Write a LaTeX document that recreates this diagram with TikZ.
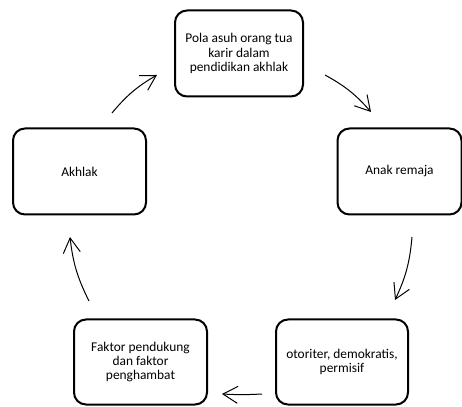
\documentclass[tikz,border=0pt]{standalone}
\usepackage{fontspec}
\setmainfont{Carlito}
\usetikzlibrary{arrows.meta}

\tikzset{
	box/.style={draw, line width=2pt, rounded corners=12pt, align=center,
		font=\fontsize{13.4}{14.5}\selectfont},
}

\begin{document}
\begin{tikzpicture}[x=1pt, y=1pt, line width=1pt, arrows={-Straight Barb[angle=60:17pt]}]
	\useasboundingbox (0,0) rectangle (462,406);

	\node[box, minimum width=128pt, minimum height=86pt] (pola) at (239,352.5) {Pola asuh orang tua\\karir dalam\\pendidikan akhlak};
	\node[box, minimum width=124pt, minimum height=86pt] (anak) at (399.5,234.5) {Anak remaja};
	\node[box, minimum width=132pt, minimum height=85pt] (tipe) at (342,44) {otoriter, demokratis,\\permisif};
	\node[box, minimum width=133pt, minimum height=85pt] (faktor) at (140.5,44) {Faktor pendukung\\dan faktor\\penghambat};
	\node[box, minimum width=133pt, minimum height=86pt] (akhlak) at (79.5,234.5) {Akhlak};

	\coordinate (p1) at (112,293);
	\coordinate (q1) at (157,331);
	\coordinate (p2) at (325,331);
	\coordinate (q2) at (371,294);
	\coordinate (p3) at (412,169);
	\coordinate (q3) at (395,106);
	\coordinate (p4) at (262,12);
	\coordinate (q4) at (222,12);
	\coordinate (p5) at (89,105);
	\coordinate (q5) at (70,169);

	\draw (p1) to [bend left=10] (q1);
	\draw (p2) to [bend left=10] (q2);
	\draw (p3) to [bend left=10] (q3);
	\draw (p4) to [bend left=3] (q4);
	\draw (p5) to [bend left=10] (q5);
\end{tikzpicture}
\end{document}
